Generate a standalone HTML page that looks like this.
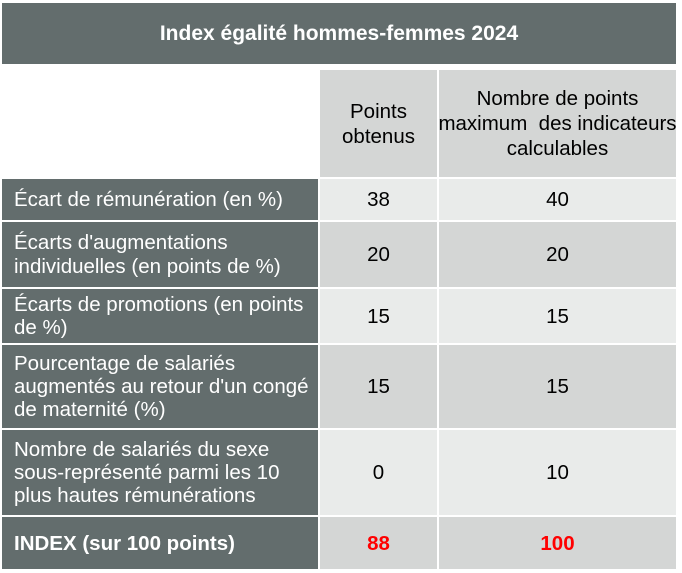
<!DOCTYPE html>
<html><head><meta charset="utf-8"><style>
body{margin:0;width:682px;height:573px;background:#fff;font-family:"Liberation Sans",Arial,sans-serif;position:relative;overflow:hidden}
.c{position:absolute;display:flex;align-items:center;box-sizing:border-box;font-size:20.5px;line-height:23px;color:#000;white-space:nowrap}
.d{background:#636d6d;color:#fff;padding-left:12px}
.g{background:#d4d6d5;justify-content:center;text-align:center}
.l{background:#e9ebea;justify-content:center;text-align:center}
.r{color:#f00;font-weight:bold}
</style></head><body>
<div class="c d" style="left:2px;top:3px;width:674px;height:61px;justify-content:center;padding:0;font-weight:bold;font-size:21px">Index égalité hommes-femmes 2024</div>
<div class="c g" style="left:320px;top:70px;width:117px;height:107px;line-height:25px">Points<br>obtenus</div>
<div class="c g" style="left:439px;top:70px;width:237px;height:107px;line-height:25px">Nombre de points<br>maximum&nbsp; des indicateurs<br>calculables</div>

<div class="c d" style="left:2px;top:179px;width:316px;height:41px">Écart de rémunération (en %)</div>
<div class="c l" style="left:320px;top:179px;width:117px;height:41px">38</div>
<div class="c l" style="left:439px;top:179px;width:237px;height:41px">40</div>

<div class="c d" style="left:2px;top:222px;width:316px;height:65px;line-height:24px">Écarts d'augmentations<br>individuelles (en points de %)</div>
<div class="c g" style="left:320px;top:222px;width:117px;height:65px">20</div>
<div class="c g" style="left:439px;top:222px;width:237px;height:65px">20</div>

<div class="c d" style="left:2px;top:289px;width:316px;height:54px">Écarts de promotions (en points<br>de %)</div>
<div class="c l" style="left:320px;top:289px;width:117px;height:54px">15</div>
<div class="c l" style="left:439px;top:289px;width:237px;height:54px">15</div>

<div class="c d" style="left:2px;top:345px;width:316px;height:83px">Pourcentage de salariés<br>augmentés au retour d'un congé<br>de maternité (%)</div>
<div class="c g" style="left:320px;top:345px;width:117px;height:83px">15</div>
<div class="c g" style="left:439px;top:345px;width:237px;height:83px">15</div>

<div class="c d" style="left:2px;top:430px;width:316px;height:85px">Nombre de salariés du sexe<br>sous-représenté parmi les 10<br>plus hautes rémunérations</div>
<div class="c l" style="left:320px;top:430px;width:117px;height:85px">0</div>
<div class="c l" style="left:439px;top:430px;width:237px;height:85px">10</div>

<div class="c d" style="left:2px;top:517px;width:316px;height:52px;font-weight:bold">INDEX (sur 100 points)</div>
<div class="c g r" style="left:320px;top:517px;width:117px;height:52px">88</div>
<div class="c g r" style="left:439px;top:517px;width:237px;height:52px">100</div>
</body></html>
